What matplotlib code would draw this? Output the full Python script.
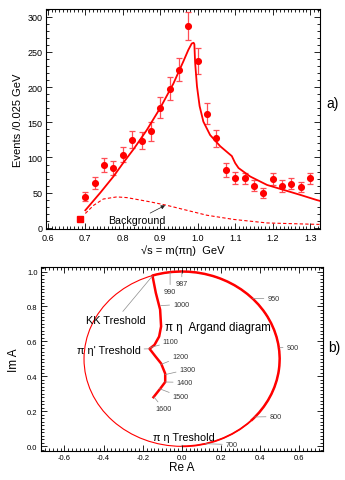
import matplotlib
matplotlib.use("Agg")
import matplotlib.pyplot as plt
import matplotlib.ticker as ticker
from matplotlib.patches import Arc, Circle

plt.rcParams['font.family'] = ['Liberation Sans', 'DejaVu Sans']
plt.rcParams['axes.unicode_minus'] = False

RED = "#ff0000"
ERR_RED = "#ff4d55"
GREY = "#8c8c8c"

# ── panel a: pi-eta mass spectrum ─────────────────────────────────────────────
mass = [0.700, 0.725, 0.750, 0.775, 0.800, 0.825, 0.850, 0.875, 0.900, 0.925,
        0.950, 0.975, 1.000, 1.025, 1.050, 1.075, 1.100, 1.125, 1.150, 1.175,
        1.200, 1.225, 1.250, 1.275, 1.300]
events = [44, 64, 89.5, 85, 104, 125, 124, 137, 171, 198,
          225, 287, 237, 162, 127, 82, 70.5, 70.5, 60, 50,
          69.5, 59.5, 63, 58, 70.5]
errors = [6.5, 9, 9.5, 10, 11, 12, 12, 13, 15.5, 16.5,
          17, 20, 18, 15, 12, 9.5, 8.5, 8, 7.5, 7,
          8.5, 8, 8, 7.5, 8]
first_mass, first_events = [0.686], [12]

fit_m = [0.700, 0.740, 0.775, 0.802, 0.829, 0.864, 0.900, 0.935, 0.962, 0.975,
         0.984, 0.989, 0.991, 0.993, 0.998, 1.005, 1.015, 1.033, 1.060, 1.091,
         1.100, 1.109, 1.140, 1.185, 1.229, 1.273, 1.318, 1.325]
fit_ev = [25, 50, 73, 93, 112, 139, 170.5, 205, 237, 253,
          262, 263, 261, 235, 201, 173, 151, 132, 116, 102,
          92, 85, 73, 61, 54, 47, 39.5, 38.5]

bg_m = [0.700, 0.722, 0.748, 0.784, 0.811, 0.873, 0.918, 0.971, 1.024, 1.096,
        1.185, 1.318, 1.325]
bg_ev = [20.5, 32, 41, 44, 43, 37, 32, 25, 18, 12, 7, 5, 5]

# ── panel b: Argand diagram ───────────────────────────────────────────────────
circ_center = (0.0, 0.5)
circ_diam = 1.0
arc_thin_deg = (-90, -45)      # 700 -> 800, thinner stroke
arc_thick_deg = (-45, 107.5)   # 800 -> 987 -> KK threshold

inner_re = [-0.150, -0.133, -0.111, -0.106, -0.116, -0.140, -0.165, -0.136,
            -0.106, -0.085, -0.085, -0.111, -0.145]
inner_im = [0.975, 0.878, 0.782, 0.686, 0.628, 0.580, 0.558, 0.516,
            0.474, 0.416, 0.368, 0.329, 0.281]

mass_labels = ['987', '990', '1000', '1100', '1200', '1300', '1400', '1500',
               '1600', '950', '900', '800', '700']
label_tip = [(0.0, 0.998), (-0.06, 0.996), (-0.108, 0.805), (-0.162, 0.565),
             (-0.108, 0.468), (-0.086, 0.41), (-0.087, 0.368), (-0.115, 0.33),
             (-0.143, 0.283), (0.362, 0.846), (0.5, 0.566), (0.372, 0.168),
             (0.12, 0.015)]
label_pos = [(0.0, 0.93), (-0.06, 0.885), (-0.045, 0.812), (-0.097, 0.597),
             (-0.05, 0.512), (-0.012, 0.44), (-0.027, 0.366), (-0.047, 0.283),
             (-0.135, 0.215), (0.437, 0.845), (0.535, 0.566), (0.448, 0.17),
             (0.224, 0.01)]
label_ha = ['center', 'center', 'left', 'left', 'left', 'left', 'left', 'left',
            'left', 'left', 'left', 'left', 'left']

fig = plt.figure(figsize=(3.45, 4.81), dpi=100)

# ═════════════════════════════ panel a ═════════════════════════════
ax1 = fig.add_axes([0.1333, 0.5208, 0.7928, 0.4584])
ax1.errorbar(mass, events, yerr=errors, fmt='o', color=RED, ms=4.1,
             ecolor=ERR_RED, elinewidth=0.9, capsize=2.3, capthick=0.9)
ax1.plot(first_mass, first_events, 's', color=RED, ms=3.8)
ax1.plot(fit_m, fit_ev, '-', color=RED, lw=1.3)
ax1.plot(bg_m, bg_ev, '--', color=RED, lw=0.8, dashes=(3, 2))

ax1.text(0.76, 11.5, "Background", fontsize=7.7, ha='left', va='center')
ax1.annotate('', xy=(0.913, 32), xytext=(0.873, 21),
             arrowprops=dict(arrowstyle='-|>', color='#222222', lw=0.5,
                             mutation_scale=6, shrinkA=0, shrinkB=0))

ax1.set_xlim(0.595, 1.325)
ax1.set_ylim(-2.3, 311)
ax1.xaxis.set_major_locator(ticker.MultipleLocator(0.1))
ax1.xaxis.set_minor_locator(ticker.MultipleLocator(0.01))
ax1.yaxis.set_major_locator(ticker.MultipleLocator(50))
ax1.yaxis.set_minor_locator(ticker.MultipleLocator(10))
ax1.xaxis.set_major_formatter(ticker.FormatStrFormatter('%.1f'))
ax1.set_xlabel("√s = m(πη)  GeV", fontsize=8, labelpad=1.5)
ax1.set_ylabel("Events /0.025 GeV", fontsize=8, labelpad=3)

# ═════════════════════════════ panel b ═════════════════════════════
ax2 = fig.add_axes([0.1188, 0.0609, 0.8165, 0.3809])
ax2.add_patch(Circle(circ_center, circ_diam / 2, fill=False, color=RED, lw=0.8))
ax2.add_patch(Arc(circ_center, circ_diam, circ_diam, theta1=arc_thin_deg[0],
                  theta2=arc_thin_deg[1], color=RED, lw=1.3))
ax2.add_patch(Arc(circ_center, circ_diam, circ_diam, theta1=arc_thick_deg[0],
                  theta2=arc_thick_deg[1], color=RED, lw=1.8))
ax2.plot(inner_re, inner_im, '-', color=RED, lw=1.8)

for lab, tip, pos, ha in zip(mass_labels, label_tip, label_pos, label_ha):
    ax2.annotate(lab, xy=tip, xytext=pos, fontsize=5.2, ha=ha, va='center',
                 color='#333333',
                 arrowprops=dict(arrowstyle='-', color=GREY, lw=0.5,
                                 shrinkA=0.5, shrinkB=0))

line_kw = dict(arrowstyle='-', color=GREY, lw=0.5, shrinkA=0.5, shrinkB=0)
ax2.annotate("KK Treshold", xy=(-0.15, 0.975), xytext=(-0.337, 0.724),
             fontsize=7.8, ha='center', va='center', arrowprops=line_kw)
ax2.annotate("π η' Treshold", xy=(-0.165, 0.558), xytext=(-0.374, 0.551),
             fontsize=7.8, ha='center', va='center', arrowprops=line_kw)
ax2.annotate("π η Treshold", xy=(0.0, 0.0), xytext=(0.008, 0.056),
             fontsize=7.8, ha='center', va='center', arrowprops=line_kw)
ax2.text(0.183, 0.68, "π η  Argand diagram", fontsize=8.3, ha='center',
         va='center')

ax2.set_xlim(-0.72, 0.72)
ax2.set_ylim(-0.025, 1.023)
ax2.xaxis.set_major_locator(ticker.MultipleLocator(0.2))
ax2.xaxis.set_minor_locator(ticker.MultipleLocator(0.02))
ax2.yaxis.set_major_locator(ticker.MultipleLocator(0.2))
ax2.yaxis.set_minor_locator(ticker.MultipleLocator(0.02))
ax2.xaxis.set_major_formatter(ticker.FormatStrFormatter('%.1f'))
ax2.yaxis.set_major_formatter(ticker.FormatStrFormatter('%.1f'))
ax2.set_xlabel("Re A", fontsize=8.5, labelpad=0)
ax2.set_ylabel("Im A", fontsize=8.5, labelpad=5)

for ax, lsize in ((ax1, 6.5), (ax2, 5.5)):
    ax.tick_params(which='both', direction='in', top=True, right=True,
                   width=0.6, labelsize=lsize, pad=2.5)
    ax.tick_params(which='major', length=4)
    ax.tick_params(which='minor', length=2)
    for sp in ax.spines.values():
        sp.set_linewidth(0.8)

fig.text(0.965, 0.784, "a)", fontsize=10, ha='center', va='center')
fig.text(0.968, 0.277, "b)", fontsize=10, ha='center', va='center')

fig.savefig("out.png", dpi=100)
